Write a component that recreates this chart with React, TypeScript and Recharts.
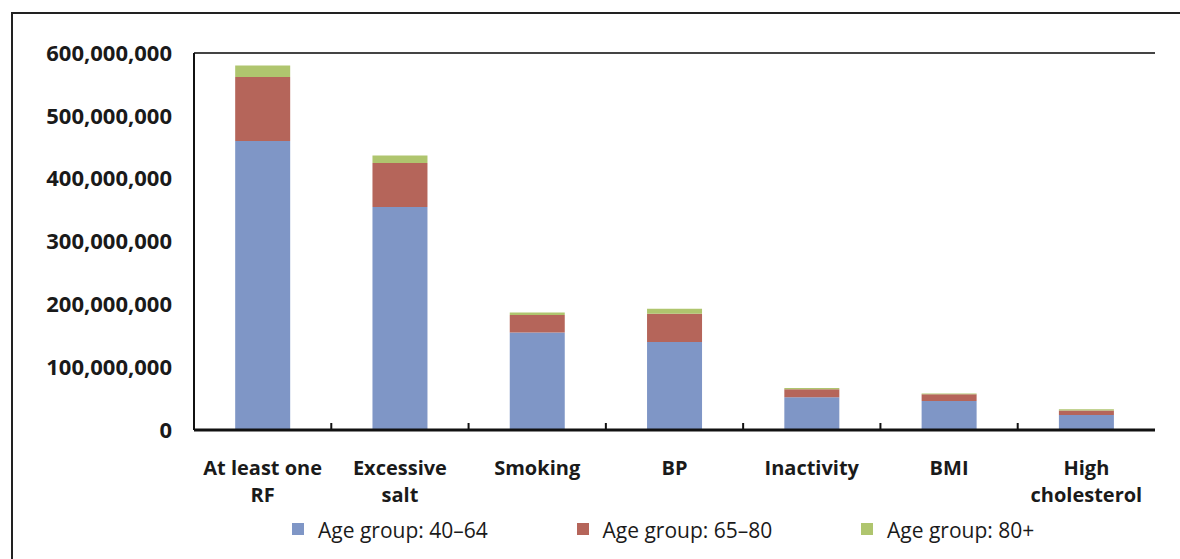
import React from 'react'
import {
  BarChart,
  Bar,
  XAxis,
  YAxis,
  CartesianGrid,
} from 'recharts'

// risk factor categories, two lines each
const categories = [
  ['At least one', 'RF'],
  ['Excessive', 'salt'],
  ['Smoking'],
  ['BP'],
  ['Inactivity'],
  ['BMI'],
  ['High', 'cholesterol'],
]

// people affected, by age group
const age40to64 = [460e6, 355e6, 155e6, 140e6, 52e6, 46e6, 24e6]
const age65to80 = [102e6, 70e6, 28e6, 45e6, 13e6, 11e6, 7e6]
const age80plus = [18e6, 12e6, 4e6, 8e6, 2e6, 1e6, 2e6]

const yTicks = [0, 100e6, 200e6, 300e6, 400e6, 500e6, 600e6]

const seriesNames = ['Age group: 40\u201364', 'Age group: 65\u201380', 'Age group: 80+']
const colors = ['#7F96C6', '#B5655A', '#AFC56E']

const data = categories.map((c, i) => ({
  key: c.join(' '),
  a: age40to64[i],
  b: age65to80[i],
  c: age80plus[i],
}))

const W = 1180
const H = 559
const M = { top: 53, right: 25, bottom: 0, left: 0 }
const Y_W = 194
const X_H = 129
const step = (W - Y_W - M.right) / categories.length

const boldFont = '"Open Sans", sans-serif'

const CategoryTick = (props: any) => {
  const { x, y, index } = props
  const lines = categories[index] || []
  return (
    <g>
      {index > 0 && (
        <line x1={x - step / 2} x2={x - step / 2} y1={y - 15} y2={y - 8} stroke="#111" strokeWidth={2} />
      )}
      <text textAnchor="middle" fontFamily={boldFont} fontWeight={700} fontSize={20} fill="#1a1a1a">
        {lines.map((l: string, k: number) => (
          <tspan key={k} x={x} y={y + 37 + k * 27}>{l}</tspan>
        ))}
      </text>
    </g>
  )
}

const ChartLegend = () => (
  <div style={{ position: 'absolute', left: 0, top: 516, width: W, height: 30 }}>
    {seriesNames.map((n, i) => (
      <div
        key={n}
        style={{
          position: 'absolute',
          left: 292 + i * 284.5,
          top: 0,
          display: 'flex',
          alignItems: 'center',
          fontFamily: '"Open Sans", sans-serif',
          fontSize: 21,
          color: '#1a1a1a',
          whiteSpace: 'nowrap',
        }}
      >
        <span style={{ width: 12, height: 12, background: colors[i], marginRight: 14, marginTop: -2 }} />
        {n}
      </div>
    ))}
  </div>
)

const App: React.FC = () => {
  return (
    <div style={{ position: 'absolute', left: 0, top: 0, width: W, height: H, overflow: 'hidden', background: '#fff' }}>
      <div
        style={{
          position: 'absolute',
          left: 11,
          top: 12,
          width: W,
          height: H,
          borderLeft: '2px solid #222',
          borderTop: '2px solid #222',
        }}
      />
      <BarChart width={W} height={H} data={data} margin={M} barCategoryGap="30%">
        <CartesianGrid vertical={false} stroke="#444" strokeWidth={2} />
        <XAxis
          dataKey="key"
          height={X_H}
          tick={<CategoryTick />}
          tickLine={false}
          axisLine={{ stroke: '#111', strokeWidth: 3 }}
          interval={0}
        />
        <YAxis
          yAxisId="l"
          width={Y_W}
          domain={[0, 600e6]}
          ticks={yTicks}
          tickFormatter={(v: number) => v.toLocaleString('en-US')}
          tick={{ fontFamily: boldFont, fontWeight: 700, fontSize: 22, fill: '#1a1a1a' }}
          tickLine={false}
          tickMargin={16}
          axisLine={{ stroke: '#111', strokeWidth: 2 }}
        />
        <YAxis
          yAxisId="r"
          orientation="right"
          width={0}
          domain={[0, 600e6]}
          ticks={yTicks}
          tick={false}
          tickLine={false}
          axisLine={{ stroke: '#222', strokeWidth: 2 }}
        />
        <Bar yAxisId="l" dataKey="a" stackId="s" name={seriesNames[0]} fill={colors[0]} isAnimationActive={false} />
        <Bar yAxisId="l" dataKey="b" stackId="s" name={seriesNames[1]} fill={colors[1]} isAnimationActive={false} />
        <Bar yAxisId="l" dataKey="c" stackId="s" name={seriesNames[2]} fill={colors[2]} isAnimationActive={false} />
      </BarChart>
      <ChartLegend />
    </div>
  )
}

export default App
